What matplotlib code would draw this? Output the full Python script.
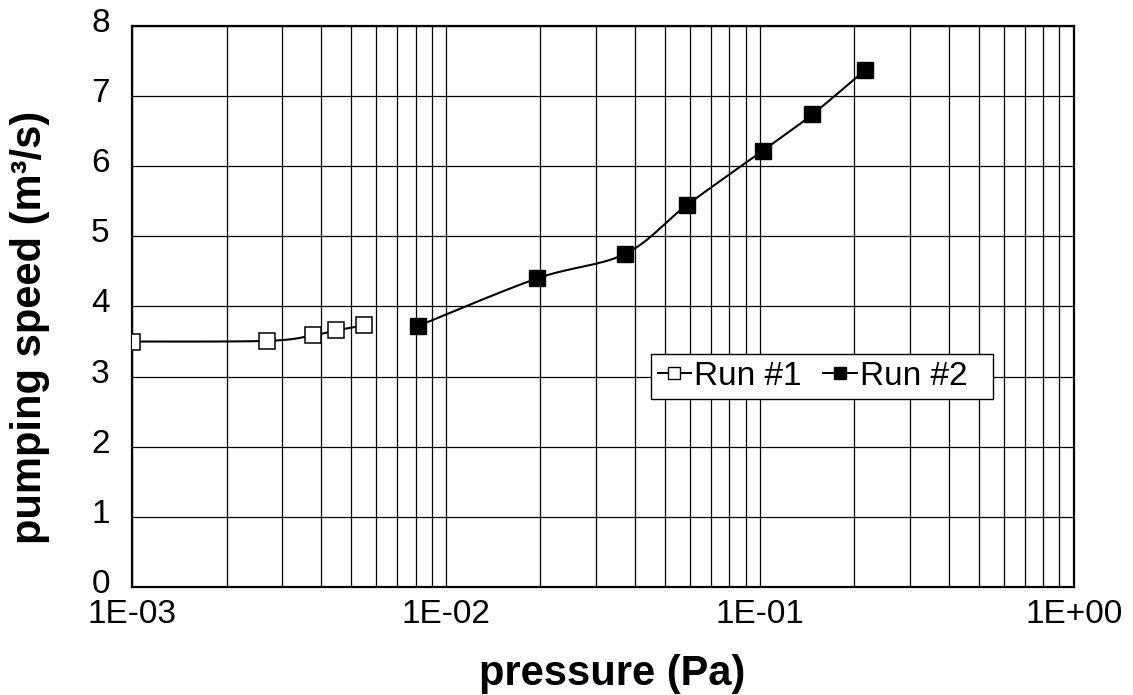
import numpy as np
import matplotlib
matplotlib.use('agg')
from matplotlib import pyplot as plt
from matplotlib.ticker import LogLocator, FixedLocator, NullFormatter
from matplotlib.transforms import ScaledTranslation

plt.rcParams['font.family'] = ['Liberation Sans', 'DejaVu Sans']

# pumping speed measurements, two runs
run1_p = [1.0e-3, 2.70e-3, 3.78e-3, 4.48e-3, 5.47e-3]
run1_s = [3.50, 3.51, 3.59, 3.66, 3.73]

run2_p = [8.13e-3, 1.95e-2, 3.72e-2, 5.87e-2, 1.02e-1, 1.47e-1, 2.16e-1]
run2_s = [3.72, 4.40, 4.75, 5.45, 6.22, 6.74, 7.37]

x_ticks = [1e-3, 1e-2, 1e-1, 1e0]
x_tick_labels = ['1E-03', '1E-02', '1E-01', '1E+00']
y_ticks = list(range(0, 9))


def smooth(px, py, steps=30):
    """Spreadsheet-style smoothed line: cubic Bezier through points, log x."""
    u = np.log10(px)
    v = np.asarray(py, dtype=float)
    pts = np.column_stack([u, v])
    n = len(pts)
    out = []
    t = np.linspace(0, 1, steps)[:, None]
    for i in range(n - 1):
        p0 = pts[max(i - 1, 0)]
        p1 = pts[i]
        p2 = pts[i + 1]
        p3 = pts[min(i + 2, n - 1)]
        c1 = p1 + (p2 - p0) / 6
        c2 = p2 - (p3 - p1) / 6
        seg = ((1 - t) ** 3 * p1 + 3 * (1 - t) ** 2 * t * c1
               + 3 * (1 - t) * t ** 2 * c2 + t ** 3 * p2)
        out.append(seg if i == 0 else seg[1:])
    out = np.vstack(out)
    return 10 ** out[:, 0], out[:, 1]


fig = plt.figure(figsize=(11.33, 6.95), dpi=100)
ax = fig.add_axes([0.1165, 0.1554, 0.8313, 0.8072])

ax.set_xscale('log')
ax.set_xlim(1e-3, 1e0)
ax.set_ylim(0, 8)

ax.xaxis.set_major_locator(FixedLocator(x_ticks))
ax.set_xticklabels(x_tick_labels)
ax.xaxis.set_minor_locator(LogLocator(base=10, subs=np.arange(2, 10)))
ax.xaxis.set_minor_formatter(NullFormatter())
ax.set_yticks(y_ticks)

ax.grid(which='major', axis='both', color='black', linewidth=0.9)
ax.grid(which='minor', axis='x', color='black', linewidth=0.9)
ax.set_axisbelow(True)
for sp in ax.spines.values():
    sp.set_linewidth(1.6)

ax.tick_params(which='both', length=0)
ax.tick_params(axis='x', labelsize=24, pad=9)
ax.tick_params(axis='y', labelsize=24, pad=16)
shift = ScaledTranslation(0, 6 / 100, fig.dpi_scale_trans)
for lbl in ax.get_yticklabels():
    lbl.set_transform(lbl.get_transform() + shift)

sx, sy = smooth(run1_p, run1_s)
ax.plot(sx, sy, color='black', linewidth=1.5, zorder=3)
ax.plot(run1_p, run1_s, linestyle='none', marker='s', markersize=11,
        markerfacecolor='white', markeredgecolor='black', markeredgewidth=1.1,
        zorder=4)
sx, sy = smooth(run2_p, run2_s)
ax.plot(sx, sy, color='black', linewidth=1.5, zorder=3)
ax.plot(run2_p, run2_s, linestyle='none', marker='s', markersize=11.5,
        color='black', zorder=4)

h1, = ax.plot([], [], color='black', linewidth=1.4, marker='s', markersize=8,
              markerfacecolor='white', markeredgecolor='black')
h2, = ax.plot([], [], color='black', linewidth=1.4, marker='s', markersize=9)
leg = ax.legend([h1, h2], ['Run #1', 'Run #2  '], ncol=2,
                loc='upper left', bbox_to_anchor=(0.551, 0.415),
                fontsize=24, frameon=True, fancybox=False, framealpha=1,
                edgecolor='black', handlelength=1.0, handletextpad=0.1,
                columnspacing=0.65, borderpad=0.2, borderaxespad=0)
leg.get_frame().set_linewidth(1.0)
leg.set_zorder(5)

ax.set_xlabel('pressure (Pa)', fontsize=30, fontweight='bold')
ax.set_ylabel('pumping speed (m³/s)', fontsize=30, fontweight='bold')
ax.xaxis.set_label_coords(0.5096, -0.1194)
ax.yaxis.set_label_coords(-0.087, 0.463)

fig.savefig('out.png', dpi=100)
